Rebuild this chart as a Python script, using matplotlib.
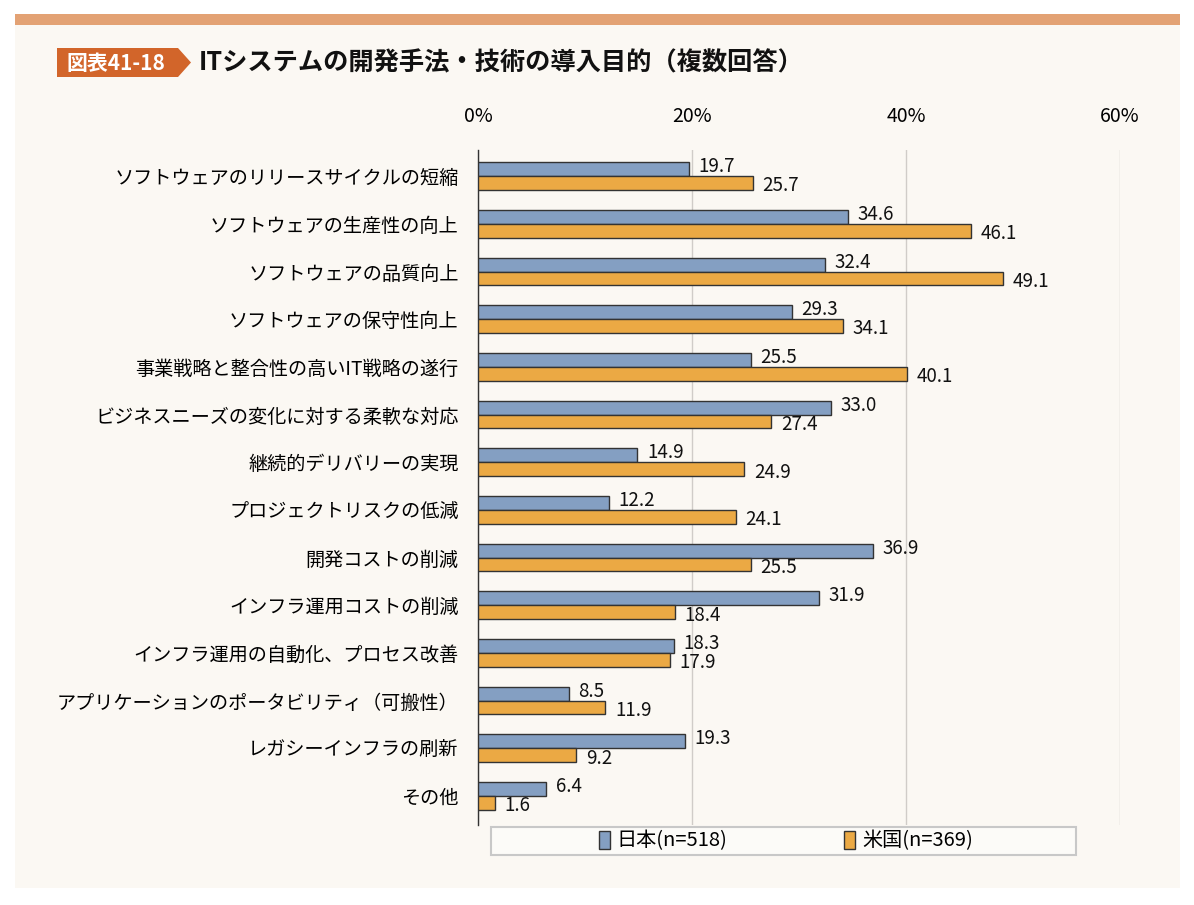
import numpy as np
import matplotlib.pyplot as plt
from matplotlib.patches import Rectangle, Polygon

plt.rcParams['font.family'] = ['Noto Sans CJK JP', 'DejaVu Sans']

# データ
categories = ['ソフトウェアのリリースサイクルの短縮', 'ソフトウェアの生産性の向上',
              'ソフトウェアの品質向上', 'ソフトウェアの保守性向上',
              '事業戦略と整合性の高いIT戦略の遂行', 'ビジネスニーズの変化に対する柔軟な対応',
              '継続的デリバリーの実現', 'プロジェクトリスクの低減', '開発コストの削減',
              'インフラ運用コストの削減', 'インフラ運用の自動化、プロセス改善',
              'アプリケーションのポータビリティ（可搬性）', 'レガシーインフラの刷新', 'その他']
japan = [19.7, 34.6, 32.4, 29.3, 25.5, 33.0, 14.9, 12.2, 36.9, 31.9, 18.3, 8.5, 19.3, 6.4]
usa = [25.7, 46.1, 49.1, 34.1, 40.1, 27.4, 24.9, 24.1, 25.5, 18.4, 17.9, 11.9, 9.2, 1.6]
series_names = ['日本(n=518)', '米国(n=369)']
xticks = [0, 20, 40, 60]

c_jp = '#849FC2'
c_us = '#EBA944'
bg = '#FBF8F3'

fig = plt.figure(figsize=(11.94, 9.05), dpi=100)
fig.patch.set_facecolor('white')

def px(x, y):
    return (x/1194, 1-y/905)

# 背景パネルと上部の帯
fig.patches.append(Rectangle(px(15, 888), 1165/1194, 863/905,
                             transform=fig.transFigure, facecolor=bg, edgecolor='none', zorder=-3))
fig.patches.append(Rectangle(px(15, 25), 1165/1194, 11/905,
                             transform=fig.transFigure, facecolor='#E3A274', edgecolor='none', zorder=-3))

# タイトルのバッジ
bx = [57, 178, 191, 178, 57]
by = [48, 48, 62.5, 77, 77]
fig.patches.append(Polygon([px(a, b) for a, b in zip(bx, by)], closed=True,
                           transform=fig.transFigure, facecolor='#D2652A', edgecolor='none', zorder=-2))
fig.text(*px(116, 63), '図表41-18', color='white', fontsize=15, fontweight='bold',
         ha='center', va='center')
fig.text(*px(199, 63), 'ITシステムの開発手法・技術の導入目的（複数回答）', color='#111111',
         fontsize=18.2, fontweight='bold', ha='left', va='center')

# 凡例の枠
fig.patches.append(Rectangle(px(491, 855), 585/1194, 28/905, transform=fig.transFigure,
                             facecolor='#FCFBF8', edgecolor='#C8C8C8', linewidth=1.5, zorder=-1))

ax = fig.add_axes([478/1194, 1-825/905, 642/1194, 675/905])
ax.set_facecolor(bg)

y = np.arange(len(categories))
h = 0.29
ax.barh(y - h/2, japan, height=h, color=c_jp, edgecolor='#333333', linewidth=1, zorder=3,
        label=series_names[0])
ax.barh(y + h/2, usa, height=h, color=c_us, edgecolor='#333333', linewidth=1, zorder=3,
        label=series_names[1])

for i in range(len(categories)):
    ax.text(japan[i] + 0.9, y[i] - h/2 - 0.05, f'{japan[i]:.1f}', fontsize=13.5,
            va='center', ha='left', color='#111111')
    ax.text(usa[i] + 0.9, y[i] + h/2 + 0.06, f'{usa[i]:.1f}', fontsize=13.5,
            va='center', ha='left', color='#111111')

ax.set_xlim(0, 60)
ax.set_ylim(13.61, -0.55)
ax.set_xticks(xticks)
ax.set_xticklabels([f'{t}%' for t in xticks], fontsize=14)
ax.xaxis.tick_top()
ax.tick_params(axis='x', length=0, pad=16.5)
ax.set_yticks(y)
ax.set_yticklabels(categories, fontsize=13.8)
ax.tick_params(axis='y', length=0, pad=14)
ax.grid(axis='x', color='#D0CCC8', linewidth=1, zorder=0)
for s in ['top', 'right', 'bottom']:
    ax.spines[s].set_visible(False)
ax.spines['left'].set_color('#333333')
ax.spines['left'].set_linewidth(1)

leg = fig.legend(loc='center', bbox_to_anchor=px(786, 841), ncol=2, fontsize=14.5,
                 handlelength=0.55, handleheight=1.0, handletextpad=0.35, columnspacing=5.8,
                 borderpad=0.2, frameon=False)

fig.savefig('out.png', dpi=100, facecolor=fig.get_facecolor())
